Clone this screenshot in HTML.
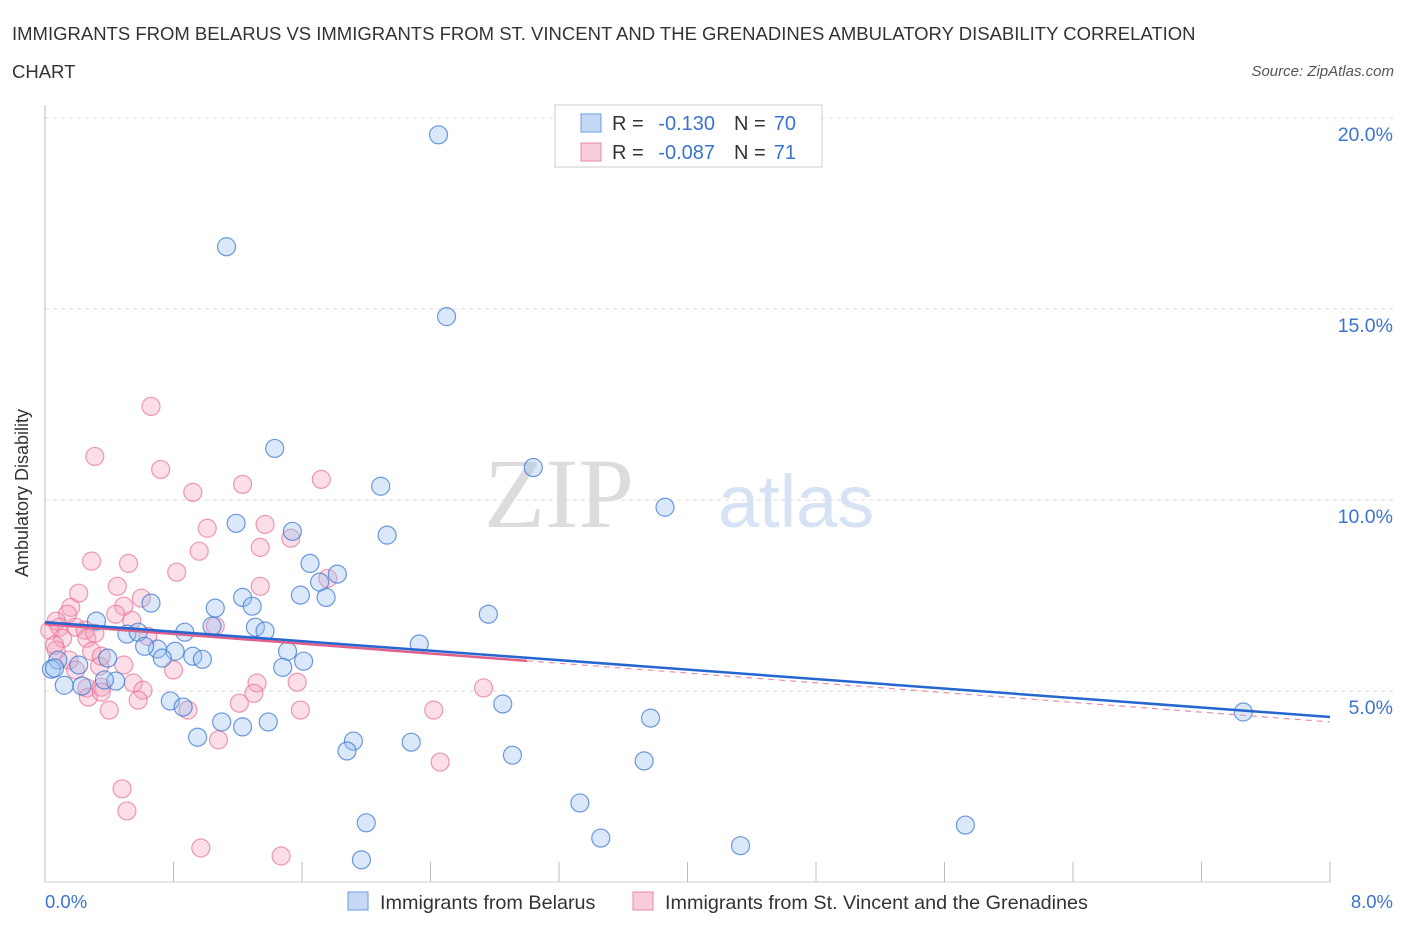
<!DOCTYPE html>
<html><head><meta charset="utf-8"><style>
body{margin:0;background:#fff;font-family:"Liberation Sans",sans-serif;}
svg text{font-family:"Liberation Sans",sans-serif;}
</style></head><body>
<svg id="chart" width="1406" height="930" xmlns="http://www.w3.org/2000/svg">
<text x="12" y="40" font-size="18.5" fill="#333">IMMIGRANTS FROM BELARUS VS IMMIGRANTS FROM ST. VINCENT AND THE GRENADINES AMBULATORY DISABILITY CORRELATION</text>
<text x="12" y="78" font-size="18.5" fill="#333">CHART</text>
<text x="1394" y="76" font-size="15" fill="#555" text-anchor="end" font-style="italic">Source: ZipAtlas.com</text>
<text x="634" y="527" font-size="100" fill="#dcdcdc" text-anchor="end" style="font-family:'Liberation Serif',serif">ZIP</text>
<text x="718" y="527" font-size="74" fill="#d6e3f5">atlas</text>
<g id="grid"></g>
<line x1="45" y1="105" x2="45" y2="882" stroke="#bbb"/>
<line x1="45" y1="882" x2="1330" y2="882" stroke="#ccc"/>
<g id="xticks"></g>
<text x="28" y="493" font-size="18" fill="#333" text-anchor="middle" transform="rotate(-90 28 493)">Ambulatory Disability</text>
<text x="45" y="908" font-size="18.5" fill="#3a73d0">0.0%</text>
<text x="1393" y="908" font-size="18.5" fill="#3a73d0" text-anchor="end">8.0%</text>
<g id="pts"></g>
<g id="lines"></g>
<g>
<rect x="555" y="105" width="267" height="62" fill="#fff" stroke="#ccc"/>
<rect x="581" y="114" width="20" height="18" fill="#c5d9f5" stroke="#6a9be0"/>
<rect x="581" y="143" width="20" height="18" fill="#f8ccd9" stroke="#e88aa8"/>
<text x="612" y="130" font-size="20" fill="#333">R =</text>
<text x="715" y="130" font-size="20" fill="#3a73d0" text-anchor="end">-0.130</text>
<text x="734" y="130" font-size="20" fill="#333">N =</text>
<text x="796" y="130" font-size="20" fill="#3a73d0" text-anchor="end">70</text>
<text x="612" y="159" font-size="20" fill="#333">R =</text>
<text x="715" y="159" font-size="20" fill="#3a73d0" text-anchor="end">-0.087</text>
<text x="734" y="159" font-size="20" fill="#333">N =</text>
<text x="796" y="159" font-size="20" fill="#3a73d0" text-anchor="end">71</text>
</g>
<g>
<rect x="348" y="892" width="20" height="18" fill="#c5d9f5" stroke="#6a9be0"/>
<text x="380" y="909" font-size="19.8" fill="#333">Immigrants from Belarus</text>
<rect x="633" y="892" width="20" height="18" fill="#f8ccd9" stroke="#e88aa8"/>
<text x="665" y="909" font-size="19.8" fill="#333">Immigrants from St. Vincent and the Grenadines</text>
</g>
</svg>
<script>
const yTicks=[5,10,15,20];
const yTickLabels=["5.0%","10.0%","15.0%","20.0%"];
const blueX=[2.45,1.13,2.50,1.43,3.04,2.09,3.86,1.19,1.54,2.13,1.65,1.82,1.71,1.23,1.59,1.75,1.29,0.66,1.06,2.76,0.32,1.04,1.31,1.37,0.51,0.58,0.87,2.33,0.70,0.81,0.62,1.51,0.92,0.39,0.73,0.98,1.61,1.48,0.08,0.04,0.21,0.12,0.23,0.44,0.37,0.78,0.86,2.85,7.46,3.77,1.10,1.39,1.23,0.95,1.92,1.88,2.28,2.91,3.73,3.33,5.73,2.00,3.46,4.33,1.97,0.06];
const blueY=[19.56,16.63,14.80,11.35,10.85,10.36,9.81,9.39,9.18,9.08,8.34,8.06,7.85,7.45,7.51,7.45,7.22,7.30,7.17,7.01,6.83,6.70,6.67,6.57,6.49,6.54,6.54,6.23,6.10,6.04,6.17,6.04,5.91,5.86,5.86,5.83,5.78,5.62,5.81,5.57,5.68,5.15,5.13,5.26,5.29,4.74,4.58,4.66,4.45,4.29,4.19,4.19,4.06,3.79,3.69,3.43,3.66,3.32,3.17,2.07,1.49,1.55,1.15,0.95,0.58,5.60];
const pinkX=[0.66,0.31,0.72,1.72,1.23,0.92,1.37,1.01,1.53,1.34,0.96,0.29,0.52,0.82,1.76,0.45,1.34,0.21,0.60,0.49,0.16,0.14,0.44,0.54,1.06,0.07,0.09,0.19,0.25,0.03,0.11,0.26,0.64,0.07,0.29,0.15,0.34,0.49,0.19,0.55,0.26,0.35,0.80,1.57,2.73,1.32,0.61,1.30,0.27,0.35,0.58,1.21,2.42,0.40,1.59,0.89,1.08,2.46,0.48,0.51,0.97,1.47,0.31,0.35,0.06];
const pinkY=[12.45,11.14,10.80,10.54,10.41,10.20,9.36,9.26,9.00,8.76,8.66,8.40,8.34,8.11,7.95,7.74,7.74,7.56,7.43,7.22,7.19,7.01,7.01,6.85,6.70,6.83,6.67,6.67,6.59,6.59,6.38,6.38,6.43,6.07,6.04,5.81,5.65,5.68,5.55,5.21,5.08,5.10,5.55,5.23,5.08,5.21,5.02,4.94,4.84,4.97,4.76,4.68,4.50,4.50,4.50,4.50,3.72,3.14,2.44,1.86,0.89,0.68,6.51,5.91,6.20];
const blueTrend=[6.80,4.32];
const pinkTrend=[6.75,4.19];
const pinkSolidEnd=3.0;
const NS="http://www.w3.org/2000/svg";
const X=v=>45+v/8*1285;
const Y=v=>882-v*38.2;
function mk(tag,attrs,parent){const e=document.createElementNS(NS,tag);for(const k in attrs)e.setAttribute(k,attrs[k]);parent.appendChild(e);return e;}
const grid=document.getElementById('grid');
yTicks.forEach((t,i)=>{
 const l=mk('line',{x1:45,x2:1393,y1:Y(t),y2:Y(t),stroke:'#ddd','stroke-dasharray':'4,4'},grid);
 
 
 const tx=mk('text',{x:1393,y:Y(t)+23,'font-size':19.5,fill:'#3a73d0','text-anchor':'end'},grid);
 tx.textContent=yTickLabels[i];
 
 
});
const xt=document.getElementById('xticks');
for(let i=1;i<=10;i++){
 const l=mk('line',{x1:X(i*0.8),x2:X(i*0.8),y1:862,y2:882,stroke:'#bbb'},xt);
 
 
}
const pts=document.getElementById('pts');
pinkX.forEach((x,i)=>{
 const c=mk('circle',{cx:X(x),cy:Y(pinkY[i]),r:9,fill:'rgba(244,160,188,0.35)',stroke:'rgba(232,120,155,0.75)','stroke-width':1.2},pts);
 
 
});
blueX.forEach((x,i)=>{
 const c=mk('circle',{cx:X(x),cy:Y(blueY[i]),r:9,fill:'rgba(150,190,240,0.35)',stroke:'rgba(60,120,210,0.75)','stroke-width':1.2},pts);
 
 
});
const lines=document.getElementById('lines');
const pAt=v=>pinkTrend[0]+(pinkTrend[1]-pinkTrend[0])*v/8;
let pl=mk('line',{x1:X(0),y1:Y(pinkTrend[0]),x2:X(pinkSolidEnd),y2:Y(pAt(pinkSolidEnd)),stroke:'#e0608a','stroke-width':2.5},lines);


let pd=mk('line',{x1:X(pinkSolidEnd),y1:Y(pAt(pinkSolidEnd)),x2:X(8),y2:Y(pinkTrend[1]),stroke:'#e890ac','stroke-width':1.2,'stroke-dasharray':'6,5'},lines);


let bl=mk('line',{x1:X(0),y1:Y(blueTrend[0]),x2:X(8),y2:Y(blueTrend[1]),stroke:'#2566d0','stroke-width':2.5},lines);


</script>
</body></html>
